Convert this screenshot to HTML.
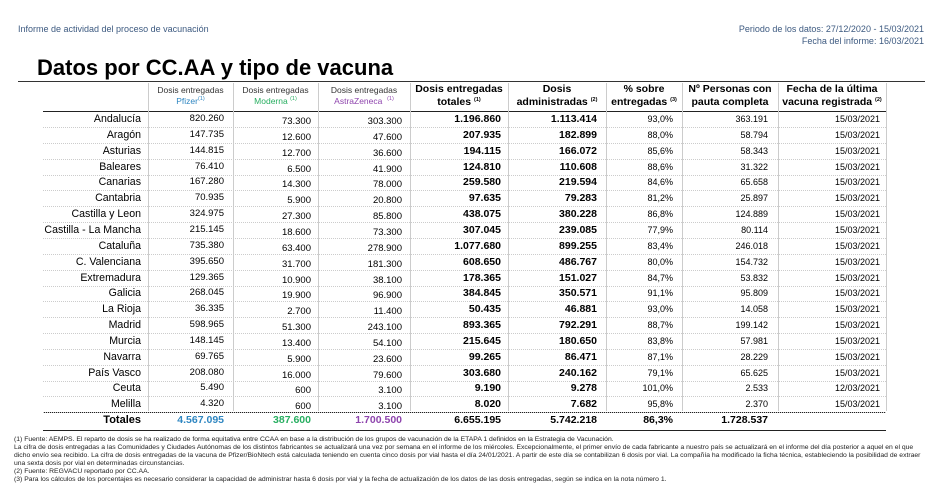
<!DOCTYPE html>
<html><head><meta charset="utf-8"><style>
body{margin:0;width:942px;height:490px;background:#fff;font-family:"Liberation Sans",sans-serif;position:relative;overflow:hidden;color:#000}
.a{position:absolute;white-space:nowrap}
.r{text-align:right}
.c{text-align:center}
.hl{position:absolute;height:0}
.vl{position:absolute;width:0;border-left:1px solid #ccc}
sup{font-size:5.5px;line-height:0;vertical-align:4px}
.fn{position:absolute;left:14px;font-size:6.8px;white-space:nowrap;transform-origin:0 0;transform:scaleX(1.0);color:#222}
</style></head><body>
<div class="a" style="left:18px;top:24px;font-size:9px;color:#3d5a80">Informe de actividad del proceso de vacunación</div>
<div class="a r" style="right:18px;top:23px;font-size:9px;color:#3d5a80;line-height:12px">Periodo de los datos: 27/12/2020 - 15/03/2021<br>Fecha del informe: 16/03/2021</div>
<div class="a" style="left:37px;top:55px;font-size:22px;font-weight:bold">Datos por CC.AA y tipo de vacuna</div>
<div class="hl" style="left:18px;width:907px;top:81px;border-top:1px solid #333"></div>
<div class="hl" style="left:43px;width:843px;top:111px;border-top:1px solid #222"></div>
<div class="hl" style="left:43px;width:843px;top:412px;border-top:1px solid #222"></div>
<div class="hl" style="left:43px;width:843px;top:430px;border-top:1px solid #222"></div>
<div id="g"></div>
<div class="fn" style="top:436px">(1) Fuente: AEMPS. El reparto de dosis se ha realizado de forma equitativa entre CCAA en base a la distribución de los grupos de vacunación de la ETAPA 1 definidos en la Estrategia de Vacunación.</div>
<div class="fn" style="top:444px">La cifra de dosis entregadas a las Comunidades y Ciudades Autónomas de los distintos fabricantes se actualizará una vez por semana en el informe de los miércoles. Excepcionalmente, el primer envío de cada fabricante a nuestro país se actualizará en el informe del día posterior a aquel en el que</div>
<div class="fn" style="top:452px">dicho envío sea recibido. La cifra de dosis entregadas de la vacuna de Pfizer/BioNtech está calculada teniendo en cuenta cinco dosis por vial hasta el día 24/01/2021. A partir de este día se contabilizan 6 dosis por vial. La compañía ha modificado la ficha técnica, estableciendo la posibilidad de extraer</div>
<div class="fn" style="top:460px">una sexta dosis por vial en determinadas circunstancias.</div>
<div class="fn" style="top:468px">(2) Fuente: REGVACU reportado por CC.AA.</div>
<div class="fn" style="top:476px">(3) Para los cálculos de los porcentajes es necesario considerar la capacidad de administrar hasta 6 dosis por vial y la fecha de actualización de los datos de las dosis entregadas, según se indica en la nota número 1.</div>
<script>
var d=[["Andalucía","820.260","73.300","303.300","1.196.860","1.113.414","93,0%","363.191","15/03/2021"],
["Aragón","147.735","12.600","47.600","207.935","182.899","88,0%","58.794","15/03/2021"],
["Asturias","144.815","12.700","36.600","194.115","166.072","85,6%","58.343","15/03/2021"],
["Baleares","76.410","6.500","41.900","124.810","110.608","88,6%","31.322","15/03/2021"],
["Canarias","167.280","14.300","78.000","259.580","219.594","84,6%","65.658","15/03/2021"],
["Cantabria","70.935","5.900","20.800","97.635","79.283","81,2%","25.897","15/03/2021"],
["Castilla y Leon","324.975","27.300","85.800","438.075","380.228","86,8%","124.889","15/03/2021"],
["Castilla - La Mancha","215.145","18.600","73.300","307.045","239.085","77,9%","80.114","15/03/2021"],
["Cataluña","735.380","63.400","278.900","1.077.680","899.255","83,4%","246.018","15/03/2021"],
["C. Valenciana","395.650","31.700","181.300","608.650","486.767","80,0%","154.732","15/03/2021"],
["Extremadura","129.365","10.900","38.100","178.365","151.027","84,7%","53.832","15/03/2021"],
["Galicia","268.045","19.900","96.900","384.845","350.571","91,1%","95.809","15/03/2021"],
["La Rioja","36.335","2.700","11.400","50.435","46.881","93,0%","14.058","15/03/2021"],
["Madrid","598.965","51.300","243.100","893.365","792.291","88,7%","199.142","15/03/2021"],
["Murcia","148.145","13.400","54.100","215.645","180.650","83,8%","57.981","15/03/2021"],
["Navarra","69.765","5.900","23.600","99.265","86.471","87,1%","28.229","15/03/2021"],
["País Vasco","208.080","16.000","79.600","303.680","240.162","79,1%","65.625","15/03/2021"],
["Ceuta","5.490","600","3.100","9.190","9.278","101,0%","2.533","12/03/2021"],
["Melilla","4.320","600","3.100","8.020","7.682","95,8%","2.370","15/03/2021"]];
var R=[141,224,311,402,501,597,673,768,880],dy=[0,-1,2,2,0,0,0,0,0],bold=[0,0,0,0,1,1,0,0,0],fs=[10.6,9.5,9.5,9.5,10.5,10.5,9,9,9];
var h='',bx=[148,233,318,410,508,606,682,778,886];
bx.forEach(function(x){h+='<div class="vl" style="left:'+x+'px;top:83px;height:328px"></div>';});
d.forEach(function(r,i){var y=112+i*15.85;
h+='<div class="hl" style="left:43px;width:843px;top:'+(y+15)+'px;border-top:1px dotted #ccc"></div>';
r.forEach(function(v,j){h+='<div class="a r" style="right:'+(942-R[j])+'px;top:'+(y+dy[j])+'px;font-size:'+fs[j]+'px;line-height:15px;'+(bold[j]?'font-weight:bold':'')+'">'+v+'</div>';});});
var t=[["Totales",141,"#000",11],["4.567.095",224,"#2e86c1",10.5],["387.600",311,"#27ae60",10.5],["1.700.500",402,"#8e44ad",10.5],["6.655.195",501,"#000",10.5],["5.742.218",597,"#000",10.5],["86,3%",673,"#000",10.5],["1.728.537",768,"#000",10.5]];
t.forEach(function(v){h+='<div class="a r" style="right:'+(942-v[1])+'px;top:414px;font-size:'+v[3]+'px;font-weight:bold;color:'+v[2]+'">'+v[0]+'</div>';});
var H=[[148,233,'Dosis entregadas<br><span style="color:#2e86c1">Pfizer<sup>(1)</sup></span>',0],
[233,318,'Dosis entregadas<br><span style="color:#27ae60">Moderna <sup>(1)</sup></span>',0],
[318,410,'Dosis entregadas<br><span style="color:#8e44ad">AstraZeneca &nbsp;<sup>(1)</sup></span>',0],
[410,508,'Dosis entregadas<br>totales <sup>(1)</sup>',1],
[508,606,'Dosis<br>administradas <sup>(2)</sup>',1],
[606,682,'% sobre<br>entregadas <sup>(3)</sup>',1],
[682,778,'Nº Personas con<br>pauta completa',1],
[778,886,'Fecha de la última<br>vacuna registrada <sup>(2)</sup>',1]];
H.forEach(function(c){h+='<div class="a c" style="left:'+c[0]+'px;width:'+(c[1]-c[0])+'px;top:'+(c[3]?83:85)+'px;font-size:'+(c[3]?10.5:8.5)+'px;line-height:'+(c[3]?13:11)+'px;'+(c[3]?'font-weight:bold':'color:#333')+'">'+c[2]+'</div>';});
document.getElementById('g').innerHTML=h;
</script>
</body></html>
